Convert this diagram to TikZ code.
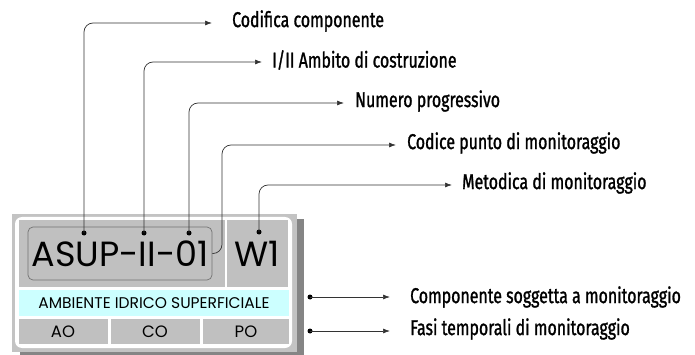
\documentclass[tikz,border=0pt]{standalone}
\usepackage{fontspec}
\usetikzlibrary{arrows.meta}
\newfontfamily\labelfont[FakeStretch=0.74,FakeBold=1.2]{Fira Sans}
\newfontfamily\boxfont{Poppins}
\definecolor{cellgray}{HTML}{C0C0C0}
\definecolor{shadowgray}{HTML}{858585}
\definecolor{bandcyan}{HTML}{CCFFFF}

\begin{document}
\begin{tikzpicture}[x=1pt,y=-1pt,
        label/.style={anchor=west, inner sep=0pt, font=\labelfont\fontsize{21.5}{23}\selectfont},
        cell/.style={fill=cellgray, inner sep=0pt, font=\boxfont\fontsize{16.5}{18}\selectfont},
        conn/.style={draw=black!80, line width=0.7pt, rounded corners=9pt, -{Latex[length=7pt,width=5pt]}},
        pin/.style={circle, fill=black, inner sep=0pt, minimum size=5pt}]
        \useasboundingbox (0,0) rectangle (695,355);
        % box with shadow
        \fill[shadowgray] (20,219) rectangle (304,356);
        \fill[cellgray!95!white] (12,214) rectangle (297,352);
        \fill[white, rounded corners=7pt] (15,217) rectangle (292,348);
        \node[cell, minimum width=206, minimum height=67](code) at (122,253.5) {};
        \node[cell, minimum width=61, minimum height=67](W1) at (257.5,253.5) {\fontsize{35}{38}\selectfont W1};
        \node[cell, fill=bandcyan, minimum width=270, minimum height=26,
              font=\boxfont\fontsize{15.5}{17}\selectfont](amb) at (154,303) {AMBIENTE IDRICO SUPERFICIALE};
        \node[cell, minimum width=89, minimum height=25](AO) at (63,331.5) {AO};
        \node[cell, minimum width=89, minimum height=25](CO) at (155,331.5) {CO};
        \node[cell, minimum width=86, minimum height=25](PO) at (246,331.5) {PO};
        \node[draw=black!55, line width=0.7pt, rounded corners=5pt, fill=cellgray,
              minimum width=184, minimum height=53, inner sep=0pt,
              font=\boxfont\fontsize{35}{38}\selectfont](asup) at (120,253.5) {ASUP-II-01};
        % pins
        \node[pin](p1) at (84,233) {};
        \node[pin](p2) at (144,233) {};
        \node[pin](p3) at (189,233) {};
        \node[pin](p5) at (259,232) {};
        \node[pin](p6) at (310,297) {};
        \node[pin](p7) at (310,331) {};
        % labels
        \node[label](l1) at (232,21) {Codifica componente};
        \node[label](l2) at (272,60) {I/II Ambito di costruzione};
        \node[label](l3) at (355,101) {Numero progressivo};
        \node[label](l4) at (407,143) {Codice punto di monitoraggio};
        \node[label](l5) at (462,183) {Metodica di monitoraggio};
        \node[label](l6) at (410,297) {Componente soggetta a monitoraggio};
        \node[label](l7) at (410,329) {Fasi temporali di monitoraggio};
        \coordinate (t1) at (212,23);
        \coordinate (t2) at (262,62);
        \coordinate (t3) at (344,103);
        \coordinate (t4) at (396,145);
        \coordinate (t5) at (452,185);
        \coordinate (t6) at (390,297);
        \coordinate (t7) at (390,331);
        \coordinate (k4) at (222,145);
        % connectors
        \path[conn] (p1.center) |- (t1);
        \path[conn] (p2.center) |- (t2);
        \path[conn] (p3.center) |- (t3);
        \path[conn] (asup.east) -| (k4) -- (t4);
        \path[conn] (p5.center) |- (t5);
        \path[conn] (p6.center) -- (t6);
        \path[conn] (p7.center) -- (t7);
\end{tikzpicture}
\end{document}
